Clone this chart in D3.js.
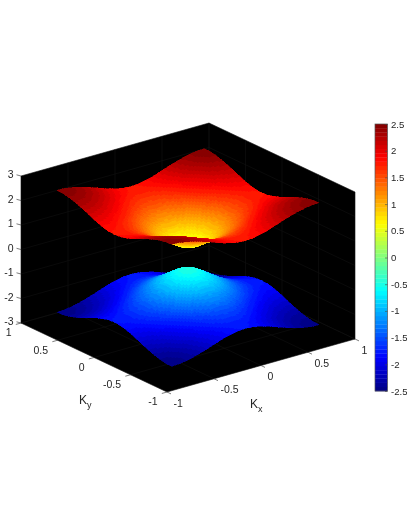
<!DOCTYPE html>
<html><head><meta charset="utf-8">
<script src="https://cdn.jsdelivr.net/npm/d3@7"></script>
<style>html,body{margin:0;padding:0;background:#fff;overflow:hidden}svg{display:block}text{font-family:"Liberation Sans",Arial,sans-serif}</style>
</head><body><svg id="c" width="407" height="527"></svg>
<script>
const kGrid=[-0.785,-0.707,-0.628,-0.55,-0.471,-0.393,-0.314,-0.236,-0.157,-0.079,0,0.079,0.157,0.236,0.314,0.393,0.471,0.55,0.628,0.707,0.785];
const bandUpper=[
[2.49,2.48,2.43,2.36,2.27,2.17,2.06,1.95,1.87,1.81,1.79,1.81,1.87,1.95,2.06,2.17,2.27,2.36,2.43,2.48,2.49],
[2.48,2.46,2.42,2.35,2.26,2.15,2.04,1.94,1.85,1.79,1.77,1.79,1.85,1.94,2.04,2.15,2.26,2.35,2.42,2.46,2.48],
[2.43,2.42,2.37,2.30,2.21,2.10,1.99,1.88,1.79,1.73,1.71,1.73,1.79,1.88,1.99,2.10,2.21,2.30,2.37,2.42,2.43],
[2.36,2.35,2.30,2.23,2.13,2.02,1.90,1.79,1.69,1.63,1.61,1.63,1.69,1.79,1.90,2.02,2.13,2.23,2.30,2.35,2.36],
[2.27,2.26,2.21,2.13,2.03,1.91,1.79,1.67,1.57,1.50,1.47,1.50,1.57,1.67,1.79,1.91,2.03,2.13,2.21,2.26,2.27],
[2.17,2.15,2.10,2.02,1.91,1.79,1.65,1.52,1.41,1.33,1.30,1.33,1.41,1.52,1.65,1.79,1.91,2.02,2.10,2.15,2.17],
[2.06,2.04,1.99,1.90,1.79,1.65,1.51,1.36,1.23,1.15,1.11,1.15,1.23,1.36,1.51,1.65,1.79,1.90,1.99,2.04,2.06],
[1.95,1.94,1.88,1.79,1.67,1.52,1.36,1.20,1.05,0.94,0.91,0.94,1.05,1.20,1.36,1.52,1.67,1.79,1.88,1.94,1.95],
[1.87,1.85,1.79,1.69,1.57,1.41,1.23,1.05,0.88,0.75,0.70,0.75,0.88,1.05,1.23,1.41,1.57,1.69,1.79,1.85,1.87],
[1.81,1.79,1.73,1.63,1.50,1.33,1.15,0.94,0.75,0.59,0.52,0.59,0.75,0.94,1.15,1.33,1.50,1.63,1.73,1.79,1.81],
[1.79,1.77,1.71,1.61,1.47,1.30,1.11,0.91,0.70,0.52,0.45,0.52,0.70,0.91,1.11,1.30,1.47,1.61,1.71,1.77,1.79],
[1.81,1.79,1.73,1.63,1.50,1.33,1.15,0.94,0.75,0.59,0.52,0.59,0.75,0.94,1.15,1.33,1.50,1.63,1.73,1.79,1.81],
[1.87,1.85,1.79,1.69,1.57,1.41,1.23,1.05,0.88,0.75,0.70,0.75,0.88,1.05,1.23,1.41,1.57,1.69,1.79,1.85,1.87],
[1.95,1.94,1.88,1.79,1.67,1.52,1.36,1.20,1.05,0.94,0.91,0.94,1.05,1.20,1.36,1.52,1.67,1.79,1.88,1.94,1.95],
[2.06,2.04,1.99,1.90,1.79,1.65,1.51,1.36,1.23,1.15,1.11,1.15,1.23,1.36,1.51,1.65,1.79,1.90,1.99,2.04,2.06],
[2.17,2.15,2.10,2.02,1.91,1.79,1.65,1.52,1.41,1.33,1.30,1.33,1.41,1.52,1.65,1.79,1.91,2.02,2.10,2.15,2.17],
[2.27,2.26,2.21,2.13,2.03,1.91,1.79,1.67,1.57,1.50,1.47,1.50,1.57,1.67,1.79,1.91,2.03,2.13,2.21,2.26,2.27],
[2.36,2.35,2.30,2.23,2.13,2.02,1.90,1.79,1.69,1.63,1.61,1.63,1.69,1.79,1.90,2.02,2.13,2.23,2.30,2.35,2.36],
[2.43,2.42,2.37,2.30,2.21,2.10,1.99,1.88,1.79,1.73,1.71,1.73,1.79,1.88,1.99,2.10,2.21,2.30,2.37,2.42,2.43],
[2.48,2.46,2.42,2.35,2.26,2.15,2.04,1.94,1.85,1.79,1.77,1.79,1.85,1.94,2.04,2.15,2.26,2.35,2.42,2.46,2.48],
[2.49,2.48,2.43,2.36,2.27,2.17,2.06,1.95,1.87,1.81,1.79,1.81,1.87,1.95,2.06,2.17,2.27,2.36,2.43,2.48,2.49]
];
const bandLower=bandUpper.map(r=>r.map(v=>-v));
const kTicks=[-1,-0.5,0,0.5,1];
const zTicks=[-3,-2,-1,0,1,2,3];
const cTicks=[-2.5,-2,-1.5,-1,-0.5,0,0.5,1,1.5,2,2.5];
const jetStops=[-2.5,-1.875,-0.625,0.625,1.875,2.5];
const jetColors=["#000080","#0000ff","#00ffff","#ffff00","#ff0000","#800000"];

const svgRoot=d3.select("#c");
const flt=svgRoot.append("defs").append("filter").attr("id","soft")
  .attr("filterUnits","userSpaceOnUse").attr("x",0).attr("y",0).attr("width",407).attr("height",527)
  .attr("color-interpolation-filters","sRGB");
flt.append("feGaussianBlur").attr("stdDeviation",0.45);
const svg=svgRoot.append("g").attr("filter","url(#soft)");
svg.append("rect").attr("width",407).attr("height",527).attr("fill","#fff");

const ox=167,oy=392;
const kxX=d3.scaleLinear([-1,1],[0,188]),kyX=d3.scaleLinear([-1,1],[0,-146]);
const kxY=d3.scaleLinear([-1,1],[0,-53]),kyY=d3.scaleLinear([-1,1],[0,-69]);
const zY=d3.scaleLinear([-3,3],[0,-147]);
const proj=(kx,ky,z)=>[ox+kxX(kx)+kyX(ky),oy+kxY(kx)+kyY(ky)+zY(z)];
const jet=d3.scaleLinear(jetStops,jetColors).interpolate(d3.interpolateRgb);
const levels=d3.range(64).map(i=>-2.5+(i+0.5)*5/64);
const cmap=d3.scaleQuantize([-2.5,2.5],levels.map(v=>jet(v)));
const line=d3.line();

// black box: two back walls and floor
svg.append("path").attr("fill","#000").attr("d",line([proj(-1,1,3),proj(1,1,3),proj(1,-1,3),proj(1,-1,-3),proj(-1,-1,-3),proj(-1,1,-3)])+"Z");

// faint grid
const grid=svg.append("g").attr("stroke","#101010").attr("stroke-width",0.6).attr("fill","none");
kTicks.forEach(t=>{
  grid.append("path").attr("d",line([proj(t,-1,-3),proj(t,1,-3),proj(t,1,3)]));
  grid.append("path").attr("d",line([proj(-1,t,-3),proj(1,t,-3),proj(1,t,3)]));
});
zTicks.forEach(z=>grid.append("path").attr("d",line([proj(-1,1,z),proj(1,1,z),proj(1,-1,z)])));

// surfaces: interpolated shading inside each mesh cell, painted back to front
const sub=4;
function surface(band){
  const quads=[];
  for(let i=0;i<kGrid.length-1;i++)for(let j=0;j<kGrid.length-1;j++){
    const a=band[i][j],b=band[i][j+1],c=band[i+1][j],d=band[i+1][j+1];
    const y0=kGrid[i],y1=kGrid[i+1],x0=kGrid[j],x1=kGrid[j+1];
    const Z=(u,v)=>a*(1-u)*(1-v)+b*u*(1-v)+c*(1-u)*v+d*u*v;
    const X=u=>x0+(x1-x0)*u,Y=v=>y0+(y1-y0)*v;
    for(let p=0;p<sub;p++)for(let q=0;q<sub;q++){
      const u0=p/sub,u1=(p+1)/sub,v0=q/sub,v1=(q+1)/sub;
      const zc=Z((u0+u1)/2,(v0+v1)/2);
      quads.push({
        pts:[proj(X(u0),Y(v0),Z(u0,v0)),proj(X(u1),Y(v0),Z(u1,v0)),proj(X(u1),Y(v1),Z(u1,v1)),proj(X(u0),Y(v1),Z(u0,v1))],
        z:zc,depth:73*X((u0+u1)/2)+94*Y((v0+v1)/2)-23.4*zc
      });
    }
  }
  quads.sort((m,n)=>n.depth-m.depth);
  svg.append("g").attr("shape-rendering","crispEdges").selectAll("path").data(quads).join("path")
    .attr("d",d=>line(d.pts)+"Z").attr("fill",d=>cmap(d.z)).attr("stroke",d=>cmap(d.z)).attr("stroke-width",0.5);
}
surface(bandLower);
surface(bandUpper);

// 3D axes
const ink="#262626";
const ticks=svg.append("g").attr("stroke","#444").attr("stroke-width",0.7);
const labels=svg.append("g").attr("fill",ink).attr("font-size",10.5);
zTicks.forEach(z=>{
  const p=proj(-1,1,z);
  ticks.append("line").attr("x1",p[0]).attr("y1",p[1]).attr("x2",p[0]-4.5).attr("y2",p[1]-1.2);
  labels.append("text").attr("x",13.5).attr("y",p[1]-1.8).attr("text-anchor","end").attr("dominant-baseline","central").text(z);
});
kTicks.forEach(t=>{
  let p=proj(t,-1,-3),q=proj(t,-1.055,-3);
  ticks.append("line").attr("x1",p[0]).attr("y1",p[1]).attr("x2",q[0]).attr("y2",q[1]);
  labels.append("text").attr("x",p[0]+6.5).attr("y",p[1]+10.5).attr("dominant-baseline","central").text(t);
  p=proj(-1,t,-3);q=proj(-1.055,t,-3);
  ticks.append("line").attr("x1",p[0]).attr("y1",p[1]).attr("x2",q[0]).attr("y2",q[1]);
  labels.append("text").attr("x",p[0]-9.5).attr("y",p[1]+9.3).attr("text-anchor","end").attr("dominant-baseline","central").text(t);
});
function axisName(x,y,sub){
  const t=svg.append("text").attr("x",x).attr("y",y).attr("fill",ink).attr("font-size",12).text("K");
  t.append("tspan").attr("font-size",9).attr("dy",3.5).text(sub);
}
axisName(79,404,"y");
axisName(250,408,"x");

// colorbar
const cbX=375,cbW=12.5;
const cy=d3.scaleLinear([-2.5,2.5],[391,124]);
const cb=svg.append("g");
cb.selectAll("rect").data(levels).join("rect")
  .attr("x",cbX).attr("width",cbW)
  .attr("y",d=>cy(d)-267/128).attr("height",267/64+0.3)
  .attr("fill",d=>jet(d));
cb.append("rect").attr("x",cbX).attr("y",124).attr("width",cbW).attr("height",267).attr("fill","none").attr("stroke","#555").attr("stroke-width",0.7);
const axis=d3.axisRight(cy).tickValues(cTicks).tickSizeInner(-2.5).tickSizeOuter(0).tickPadding(3.5).tickFormat(d=>String(d));
const ag=svg.append("g").attr("transform",`translate(${cbX+cbW},0)`).call(axis);
ag.select(".domain").remove();
ag.selectAll("line").attr("stroke","#444").attr("stroke-width",0.6);
ag.selectAll("text").attr("fill",ink).attr("font-size",9.6).attr("font-family",'"Liberation Sans",Arial,sans-serif');
</script></body></html>
